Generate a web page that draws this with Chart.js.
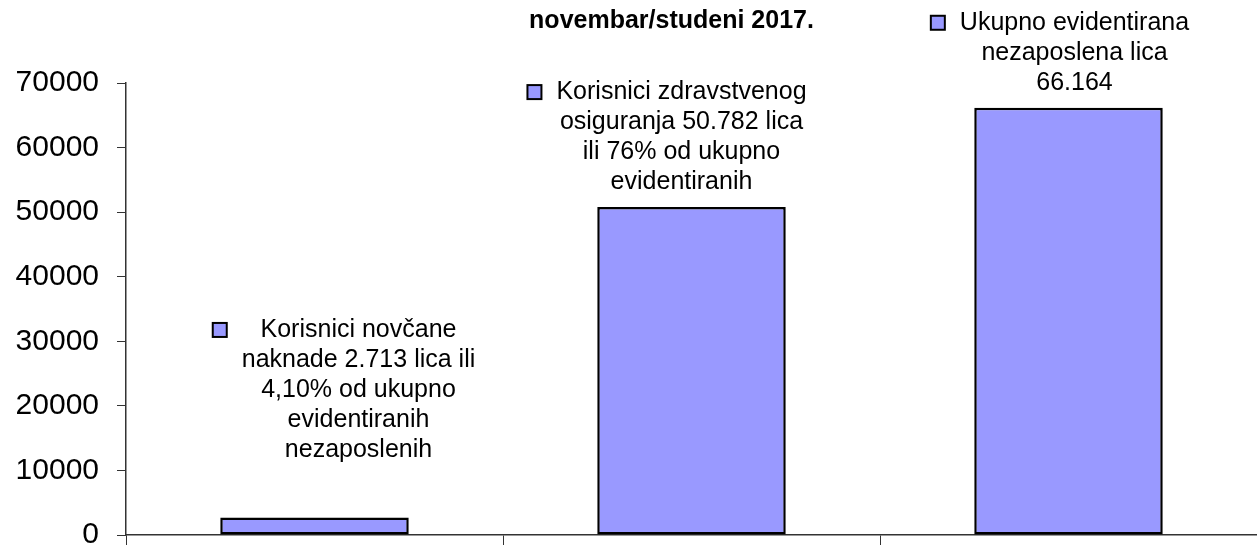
<!DOCTYPE html>
<html>
<head>
<meta charset="utf-8">
<script src="https://cdn.jsdelivr.net/npm/chart.js@4/dist/chart.umd.min.js"></script>
<style>
  html, body { margin: 0; padding: 0; background: #fff; }
  #wrap { width: 1257px; height: 546px; position: relative; }
</style>
</head>
<body>
<div id="wrap"><canvas id="chart"></canvas></div>
<script>
// podaci
const titleText = 'novembar/studeni 2017.';
const categories = ['Korisnici novčane naknade', 'Korisnici zdravstvenog osiguranja', 'Ukupno evidentirana nezaposlena lica'];
const values = [2713, 50782, 66164];
const yTicks = [0, 10000, 20000, 30000, 40000, 50000, 60000, 70000];
const labelLines = [
  ['Korisnici novčane', 'naknade 2.713 lica ili', '4,10% od ukupno', 'evidentiranih', 'nezaposlenih'],
  ['Korisnici zdravstvenog', 'osiguranja 50.782 lica', 'ili 76% od ukupno', 'evidentiranih'],
  ['Ukupno evidentirana', 'nezaposlena lica', '66.164'],
];

const FONT = "Arial, 'Liberation Sans', sans-serif";
const BAR_COLOR = '#9999FF';

// ručno pomjerene oznake (kao u Excelu)
const labelsPlugin = {
  id: 'barLabels',
  afterDatasetsDraw(chart, args, opts) {
    const ctx = chart.ctx;
    const yScale = chart.scales.y;
    const meta = chart.getDatasetMeta(0);
    ctx.save();
    ctx.font = `${opts.size}px ${FONT}`;
    ctx.fillStyle = '#000';
    ctx.textAlign = 'center';
    ctx.textBaseline = 'middle';
    meta.data.forEach((bar, i) => {
      const lines = labelLines[i];
      const base = Math.max(values[i], opts.minBase[i] || 0);
      const lastY = yScale.getPixelForValue(base) - opts.gap;
      const cx = bar.x + opts.dx[i];
      const firstY = lastY - (lines.length - 1) * opts.lineHeight;
      let maxW = 0;
      lines.forEach((line, j) => {
        maxW = Math.max(maxW, ctx.measureText(line).width);
        ctx.fillText(line, cx, firstY + j * opts.lineHeight);
      });
      // legend key
      const kx = cx - maxW / 2 - 29;
      ctx.fillStyle = BAR_COLOR;
      ctx.strokeStyle = '#000';
      ctx.lineWidth = 2;
      ctx.fillRect(kx, firstY - 7, 14, 14);
      ctx.strokeRect(kx, firstY - 7, 14, 14);
      ctx.fillStyle = '#000';
    });
    // naslov
    ctx.font = `bold ${opts.titleSize}px ${FONT}`;
    const area = chart.chartArea;
    ctx.fillText(titleText, (area.left + area.right) / 2 - 20, 21);
    ctx.restore();
  },
};

new Chart(document.getElementById('chart'), {
  type: 'bar',
  data: {
    labels: categories,
    datasets: [{
      data: values,
      backgroundColor: BAR_COLOR,
      borderColor: '#000',
      borderWidth: 2.5,
      borderSkipped: false,
      barPercentage: 0.5,
      categoryPercentage: 1,
    }],
  },
  options: {
    responsive: true,
    maintainAspectRatio: false,
    animation: false,
    layout: { padding: { top: 83, right: 0, bottom: 0, left: 0 } },
    plugins: {
      legend: { display: false },
      tooltip: { enabled: false },
      barLabels: {
        size: 25,
        titleSize: 25,
        lineHeight: 30,
        gap: 25,
        dx: [44, -10, 6],
        minBase: [9300, 0, 0],
      },
    },
    scales: {
      x: {
        offset: true,
        grid: { offset: true, drawOnChartArea: false, drawTicks: true, tickLength: 10, color: '#333' },
        border: { color: '#333', width: 1.5 },
        ticks: { display: false },
        afterFit: (s) => { s.height = 11; s.paddingLeft = 0; s.paddingRight = 0; },
      },
      y: {
        min: 0,
        max: 70000,
        afterBuildTicks: (s) => { s.ticks = yTicks.map((v) => ({ value: v })); },
        grid: { drawOnChartArea: false, drawTicks: true, tickLength: 9, color: '#333' },
        border: { color: '#333', width: 1.5 },
        ticks: {
          color: '#000',
          font: { family: FONT, size: 30 },
          padding: 18,
          callback: (v) => String(v),
        },
        afterFit: (s) => { s.width = 126; s.paddingTop = 0; s.paddingBottom = 0; },
      },
    },
  },
  plugins: [labelsPlugin],
});
</script>
</body>
</html>
